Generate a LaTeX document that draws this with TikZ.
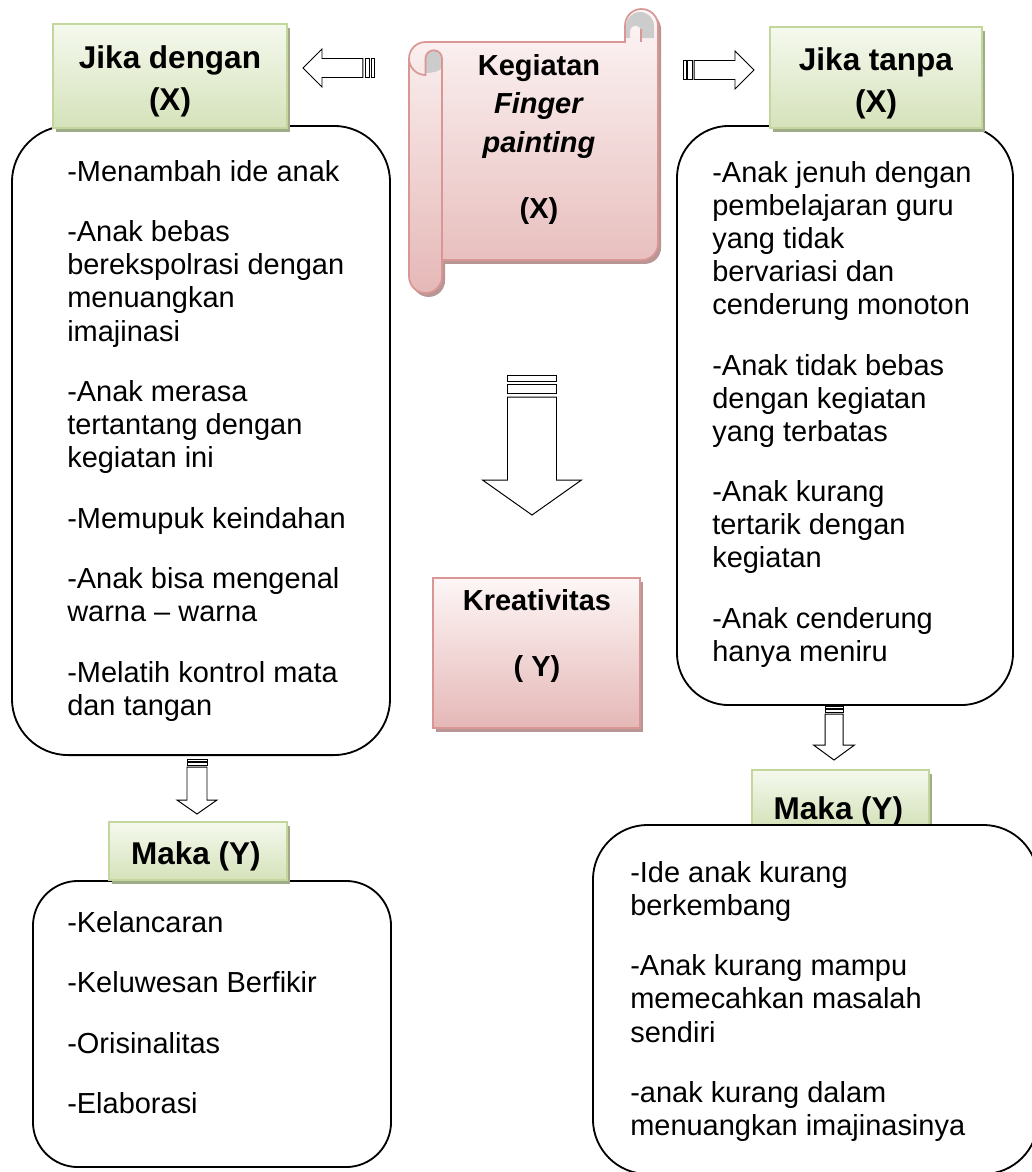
\documentclass[tikz,border=0pt]{standalone}
\usepackage{fontspec}
\setmainfont{Liberation Sans}
\usetikzlibrary{shadows}

\definecolor{greenTop}{RGB}{245,249,238}
\definecolor{greenBot}{RGB}{213,226,186}
\definecolor{greenLine}{RGB}{195,214,155}
\definecolor{greenShadow}{RGB}{160,172,136}
\definecolor{pinkTop}{RGB}{253,246,246}
\definecolor{pinkBot}{RGB}{229,184,183}
\definecolor{pinkLine}{RGB}{217,150,148}
\definecolor{pinkShadow}{RGB}{184,150,150}
\definecolor{curlGray}{RGB}{204,204,204}

\newcommand{\bodyfont}{\fontsize{20.6}{23.5}\selectfont}
\newcommand{\headfont}{\fontsize{22.4}{29.9}\selectfont\bfseries}
\newcommand{\titlefont}{\fontsize{20.6}{27.4}\selectfont\bfseries}

% block arrow, two stripes at the tail: tail, angle, length, shaft, head, head length, stripe
\newcommand{\stripedarrow}[7]{%
  \begin{scope}[shift={(#1)},rotate=#2]
    \draw[barrow] (0,-#4) rectangle (#7,#4);
    \draw[barrow] (1.5*#7,-#4) rectangle (3*#7,#4);
    \draw[barrow] (3.7*#7,-#4) -- (#3-#6,-#4) -- (#3-#6,-#5) -- (#3,0)
      -- (#3-#6,#5) -- (#3-#6,#4) -- (3.7*#7,#4) -- cycle;
  \end{scope}}

\tikzset{
  roundbox/.style={draw, line width=1.3pt, fill=white, rounded corners=#1, inner sep=0pt},
  headbox/.style={draw=greenLine, line width=1.5pt, top color=greenTop, bottom color=greenBot,
    drop shadow={shadow xshift=2.2pt, shadow yshift=-2.8pt, fill=greenShadow, opacity=1}, inner sep=0pt},
  pinkbox/.style={draw=pinkLine, line width=1.5pt, top color=pinkTop, bottom color=pinkBot,
    drop shadow={shadow xshift=2.2pt, shadow yshift=-2.8pt, fill=pinkShadow, opacity=1}, inner sep=0pt},
  list/.style={anchor=north west, align=left, inner sep=0pt, font=\bodyfont},
  headtext/.style={anchor=north, align=center, inner sep=0pt, font=\headfont},
  titletext/.style={anchor=north, align=center, inner sep=0pt, font=\titlefont},
  barrow/.style={draw, line width=0.7pt, fill=white},
  scrollline/.style={draw=pinkLine, line width=1.2pt},
}

\begin{document}
\begin{tikzpicture}[x=0.025cm,y=-0.025cm]
	\useasboundingbox (0,0) rectangle (1032,1172);
	\clip (0,0) rectangle (1032,1172);

	%left column
	\node[roundbox=40pt, minimum width=9.45cm, minimum height=15.725cm] (withbox) at (201,440.5) {};
	\node[headbox, minimum width=5.85cm, minimum height=2.6cm] (withX) at (170,76) {};
	\node[roundbox=32pt, minimum width=8.95cm, minimum height=7.15cm] (resultL) at (212,1024) {};
	\node[headbox, minimum width=4.45cm, minimum height=1.45cm] (makaL) at (198,851) {};

	%right column
	\node[roundbox=37pt, minimum width=8.4cm, minimum height=14.475cm] (withoutbox) at (845,415.5) {};
	\node[headbox, minimum width=5.3cm, minimum height=2.525cm] (withoutX) at (876,77.5) {};
	\node[headbox, minimum width=4.425cm, minimum height=1.4cm] (makaR) at (840.5,798) {};
	\node[headtext] (makaRtext) at (838.5,790) {\strut Maka (Y)};
	\node[roundbox=39pt, minimum width=11.125cm, minimum height=8.725cm] (resultR) at (815.5,999.5) {};

	%scroll
	\path[scrollline, top color=pinkTop, bottom color=pinkBot,
	  drop shadow={shadow xshift=2.2pt, shadow yshift=-2.8pt, fill=pinkShadow, opacity=1}]
	  (442,260) -- (641.5,260) arc[start angle=90,end angle=0,radius=16.5]
	  -- (658,25.5) arc[start angle=0,end angle=-180,radius=16.5]
	  -- (625,42) -- (425.5,42) arc[start angle=-90,end angle=-180,radius=16.5]
	  -- (409,276.5) arc[start angle=180,end angle=0,radius=16.5] -- cycle;
	\fill[curlGray] (425.5,73) -- (425.5,58.5) arc[start angle=180,end angle=360,radius=8.25]
	  -- (442,66) .. controls (442,71) and (433,73) .. (425.5,73) -- cycle;
	\fill[curlGray] (626,38) -- (626,26) arc[start angle=180,end angle=360,radius=14]
	  -- (654,38) -- (641,38) -- (641,31) arc[start angle=0,end angle=-180,radius=5.5]
	  -- (630,38) -- cycle;
	\draw[scrollline] (409,58.5) arc[start angle=180,end angle=90,radius=16.5] -- (425.5,58.5)
	  arc[start angle=180,end angle=360,radius=8.25] -- (442,260);
	\draw[scrollline] (641,42) -- (641,29);
	\node[pinkbox, minimum width=5.175cm, minimum height=3.75cm] (kreatif) at (536.5,653) {};

	%arrows
	\coordinate (toWith) at (374,68);
	\coordinate (toWithout) at (683,70);
	\coordinate (toKreatif) at (532,375);
	\coordinate (toMakaL) at (197,759);
	\coordinate (toMakaR) at (834,706);
	\stripedarrow{toWith}{180}{71}{9.5}{19}{19}{3}
	\stripedarrow{toWithout}{0}{71}{9.5}{19}{19}{3}
	\stripedarrow{toKreatif}{-90}{140}{24.5}{49.5}{35}{6}
	\stripedarrow{toMakaL}{-90}{55}{10}{20}{14}{2.2}
	\stripedarrow{toMakaR}{-90}{54}{9}{20.5}{15}{2.2}

	%texts
	\node[headtext] (withXtext) at (170,38.6) {\strut Jika dengan\\ (X)};
	\node[headtext] (withoutXtext) at (876,40.6) {\strut Jika tanpa\\ (X)};
	\node[headtext] (makaLtext) at (196,834.6) {\strut Maka (Y)};
	\node[titletext] (scrolltext) at (539,48) {\strut Kegiatan\\ \textit{Finger}\\ \textit{painting}\\[19.5pt] (X)};
	\node[titletext] (kreatiftext) at (537,583) {\strut Kreativitas\\[19.5pt] ( Y)};
	\node[list] (withtext) at (67,158) {\strut-Menambah ide anak\\[19.5pt]
	  -Anak bebas\\ berekspolrasi dengan\\ menuangkan\\ imajinasi\\[19.5pt]
	  -Anak merasa\\ tertantang dengan\\ kegiatan ini\\[19.5pt]
	  -Memupuk keindahan\\[19.5pt]
	  -Anak bisa mengenal\\ warna – warna\\[19.5pt]
	  -Melatih kontrol mata\\ dan tangan};
	\node[list] (withouttext) at (712,159) {\strut-Anak jenuh dengan\\ pembelajaran guru\\ yang tidak\\ bervariasi dan\\ cenderung monoton\\[19.5pt]
	  -Anak tidak bebas\\ dengan kegiatan\\ yang terbatas\\[19.5pt]
	  -Anak kurang\\ tertarik dengan\\ kegiatan\\[19.5pt]
	  -Anak cenderung\\ hanya meniru};
	\node[list] (resultLtext) at (67,909) {\strut-Kelancaran\\[19.5pt]
	  -Keluwesan Berfikir\\[19.5pt]
	  -Orisinalitas\\[19.5pt]
	  -Elaborasi};
	\node[list] (resultRtext) at (630,859) {\strut-Ide anak kurang\\ berkembang\\[19.5pt]
	  -Anak kurang mampu\\ memecahkan masalah\\ sendiri\\[19.5pt]
	  -anak kurang dalam\\ menuangkan imajinasinya};
\end{tikzpicture}
\end{document}
